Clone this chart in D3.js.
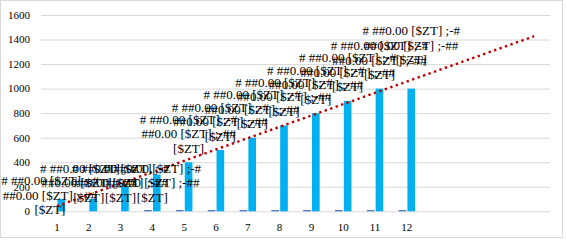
<!DOCTYPE html>
<html>
<head>
<meta charset="utf-8">
<script src="https://cdn.jsdelivr.net/npm/d3@7"></script>
<style>
  body { margin: 0; background: #fff; }
  text { font-family: 'Times New Roman', 'Liberation Serif', serif; fill: #000; }
</style>
</head>
<body>
<div id="box-div"></div>
<script>
// data
const categories = ['1', '2', '3', '4', '5', '6', '7', '8', '9', '10', '11', '12']
const mainValues = [100, 100, 200, 300, 400, 500, 600, 700, 800, 900, 1000, 1000]
const smallValues = [0, 0, 0, 10, 10, 10, 10, 10, 10, 10, 10, 10]
const yTicks = [0, 200, 400, 600, 800, 1000, 1200, 1400, 1600]
const forwardPeriods = 4
const labelLines = ['# ##0.00 [$ZT] ;-#', '##0.00 [$ZT] ;-##', '[$ZT]']

let dms = {
    width: 567,
    height: 241,
    margin: { top: 15, right: 17, bottom: 29.7, left: 41 }
}
dms.chartWidth = dms.width - dms.margin.left - dms.margin.right
dms.chartHeight = dms.height - dms.margin.top - dms.margin.bottom

const box = d3.select('#box-div').append('svg')
    .attr('width', dms.width)
    .attr('height', dms.height)

// chart area border
box.append('rect')
    .attr('x', 0.5).attr('y', 0.5)
    .attr('width', 562).attr('height', 237)
    .attr('fill', '#fff')
    .attr('stroke', '#d9d9d9')

const content = box.append('g')
    .attr('transform', `translate(${dms.margin.left}, ${dms.margin.top})`)

// x slots include the trendline forecast periods
const slots = d3.range(1, categories.length + forwardPeriods + 1).map(String)
const xScale = d3.scaleBand()
    .domain(slots)
    .range([0, dms.chartWidth])

const yScale = d3.scaleLinear()
    .domain([0, 1600])
    .range([dms.chartHeight, 0])

// grid
const grid = content.append('g')
    .call(d3.axisLeft(yScale).tickValues(yTicks).tickSize(-dms.chartWidth).tickFormat(''))
grid.select('.domain').remove()
grid.selectAll('.tick line').attr('stroke', '#d9d9d9')

// y labels
content.append('g')
    .selectAll('text')
    .data(yTicks)
    .join('text')
    .attr('x', -11)
    .attr('y', d => yScale(d))
    .attr('dy', '0.35em')
    .attr('text-anchor', 'end')
    .style('font-size', '11px')
    .text(d => d)

// x labels
const xAxis = content.append('g')
    .attr('transform', `translate(0, ${dms.chartHeight})`)
    .call(d3.axisBottom(xScale).tickValues(categories).tickSize(0).tickPadding(12))
xAxis.select('.domain').remove()
xAxis.selectAll('text')
    .style('font-size', '11px')
    .style('font-family', "'Times New Roman', 'Liberation Serif', serif")

const bw = xScale.bandwidth() * 0.24
const center = c => xScale(c) + xScale.bandwidth() / 2

// small series
content.append('g')
    .selectAll('rect')
    .data(smallValues)
    .join('rect')
    .attr('x', (d, i) => center(categories[i]) - 0.6 - bw)
    .attr('y', d => yScale(d))
    .attr('width', bw)
    .attr('height', d => dms.chartHeight - yScale(d))
    .attr('fill', '#4472c4')

// main series
content.append('g')
    .selectAll('rect')
    .data(mainValues)
    .join('rect')
    .attr('x', (d, i) => center(categories[i]) + 0.6)
    .attr('y', d => yScale(d))
    .attr('width', bw)
    .attr('height', d => dms.chartHeight - yScale(d))
    .attr('fill', '#00b0f0')

// linear trendline, forecast forward
const xs = mainValues.map((d, i) => i + 1)
const mx = d3.mean(xs)
const my = d3.mean(mainValues)
const slope = d3.sum(xs, (x, i) => (x - mx) * (mainValues[i] - my)) / d3.sum(xs, x => (x - mx) ** 2)
const icpt = my - slope * mx
const trendEnds = [1, slots.length]

content.append('path')
    .datum(trendEnds)
    .attr('d', d3.line()
        .x(t => center(String(t)))
        .y(t => yScale(icpt + slope * t)))
    .attr('fill', 'none')
    .attr('stroke', '#c00000')
    .attr('stroke-width', 2.4)
    .attr('stroke-dasharray', '2.4 3.4')

// data labels (first four were left at the base, some moved by hand)
const baseCount = 4
const nudge = { 0: [-7, 12.5], 11: [0, -15] }
const labels = content.append('g')
mainValues.forEach((v, i) => {
    const c = center(categories[i])
    const n = nudge[i] || [0, 0]
    const lx = (i < baseCount ? c : c + 0.6 + bw / 2) + n[0]
    const ly = yScale(i < baseCount ? 0 : v) + n[1]
    labels.append('text')
        .attr('text-anchor', 'middle')
        .style('font-size', '13px')
        .selectAll('tspan')
        .data(labelLines)
        .join('tspan')
        .attr('x', lx)
        .attr('y', (d, k) => ly - 14 - (labelLines.length - 1 - k) * 14.5)
        .attr('dy', '0.35em')
        .text(d => d)
})
</script>
</body>
</html>
